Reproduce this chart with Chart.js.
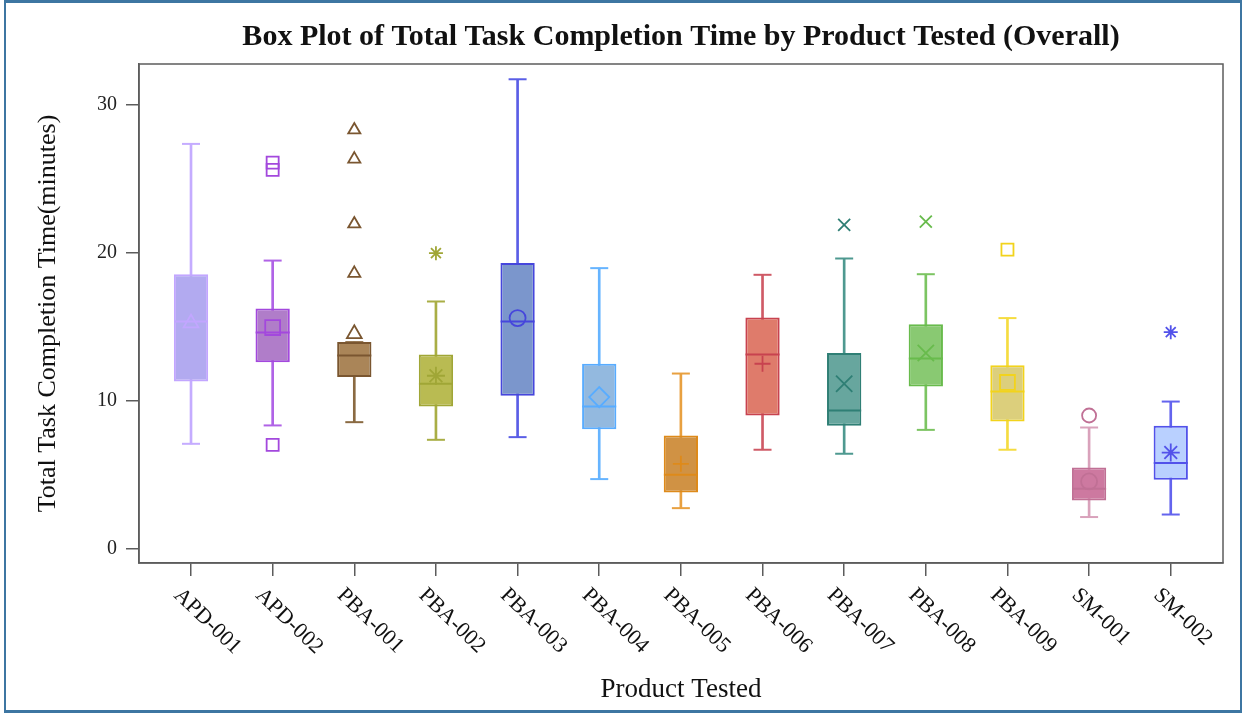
<!DOCTYPE html>
<html><head><meta charset="utf-8">
<script src="https://cdn.jsdelivr.net/npm/chart.js@4.4.1/dist/chart.umd.min.js"></script>
<style>
html,body{margin:0;padding:0;background:#fff;overflow:hidden}
#wrap{position:relative;width:1245px;height:714px}
#frame{position:absolute;left:4px;top:0;width:1238px;height:713px;box-sizing:border-box;border:2px solid #3d76a2;border-top-width:3px;border-bottom-width:3px;pointer-events:none}
canvas{display:block}
</style></head><body>
<div id="wrap"><canvas id="c" width="1245" height="714"></canvas><div id="frame"></div></div>
<script>
// ---- data ----
const categories = ['APD-001','APD-002','PBA-001','PBA-002','PBA-003','PBA-004','PBA-005','PBA-006','PBA-007','PBA-008','PBA-009','SM-001','SM-002'];
const whiskerLow  = [7.10, 8.34, 8.56, 7.37, 7.55, 4.72, 2.76, 6.70, 6.43, 8.04, 6.70, 2.16, 2.33];
const q1          = [11.30, 12.61, 11.60, 9.62, 10.34, 8.09, 3.82, 9.01, 8.31, 10.97, 8.60, 3.28, 4.67];
const median      = [15.35, 14.60, 13.06, 11.15, 15.35, 9.62, 5.01, 13.12, 9.35, 12.85, 10.63, 4.07, 5.80];
const q3          = [18.54, 16.22, 13.96, 13.12, 19.29, 12.50, 7.66, 15.62, 13.22, 15.17, 12.40, 5.50, 8.31];
const whiskerHigh = [27.33, 19.46, 13.96, 16.70, 31.69, 18.95, 11.84, 18.50, 19.60, 18.54, 15.58, 8.20, 9.95];
const mean        = [15.24, 14.94, 14.52, 11.69, 15.58, 10.25, 5.75, 12.50, 11.15, 13.22, 11.24, 4.56, 6.51];
const outliers    = [[], [26.07, 25.58, 7.03], [28.27, 26.30, 21.93, 18.60], [19.96], [], [], [], [], [21.87], [22.09], [20.20], [9.01], [14.63]];
const yTicks = [0, 10, 20, 30];

// ---- styles ----
const markers = ['triangle','rect','triangle','star','circle','rectRot','cross','cross','crossRot','crossRot','rect','circle','star'];
const fillColors = ['#b2aaf0','#b07dc9','#aa8558','#b9bb52','#7b96cc','#93b9df','#d09244','#df7b6b','#67a69e','#89c972','#dccf7c','#cd79a0','#b9d0ff'];
const lineColors = ['#c2a6ff','#a348dd','#7a5630','#a0a636','#4646dc','#58acff','#de8a1a','#c8424f','#2f7f75','#68bb4c','#f2d31c','#c07095','#5252ea'];
const whiskerColors = ['#c5acff','#b063e6','#8a6a42','#a9ae45','#5a5ee6','#66b4ff','#e8a040','#cf5a66','#4e9990','#7cc462','#f5dc40','#d9a2bb','#6464ee'];
const meanSize = {triangle:8.5, rect:10.5, star:9, circle:8, rectRot:10, cross:8, crossRot:11.5};
const outSize  = {triangle:7, rect:8.5, star:7, circle:7, rectRot:8, cross:7, crossRot:8.5};
const serif = "'Liberation Serif','Times New Roman',serif";
const axisColor = '#5c5c5c';

const idx = categories.map((_, i) => i);
const outlierPoints = outliers.flatMap((arr, i) => arr.map(v => ({x: i, y: v})));

const xLabelPlugin = {
  id: 'xLabels',
  afterDraw(chart) {
    const sx = chart.scales.x, ctx = chart.ctx;
    ctx.save();
    ctx.font = '22px ' + serif;
    ctx.fillStyle = '#111';
    ctx.textAlign = 'left';
    ctx.textBaseline = 'middle';
    categories.forEach((c, i) => {
      const px = sx.getPixelForValue(i);
      ctx.save();
      ctx.translate(px - 14, sx.top + 29);
      ctx.rotate(44 * Math.PI / 180);
      ctx.fillText(c, 0, 0);
      ctx.restore();
    });
    ctx.restore();
  }
};
const framePlugin = {
  id: 'plotFrame',
  afterDraw(chart) {
    const {ctx, chartArea: a} = chart;
    ctx.save();
    ctx.strokeStyle = axisColor;
    ctx.lineWidth = 1.5;
    ctx.strokeRect(a.left, a.top, a.right - a.left, a.bottom - a.top);
    ctx.restore();
  }
};

const byX = (arr, fallback) => c => (c.raw && c.raw.x !== undefined) ? arr[c.raw.x] : fallback;

new Chart(document.getElementById('c'), {
  type: 'bar',
  data: {
    datasets: [
      { type: 'bar', label: 'Whisker', order: 6, grouped: false,
        data: idx.map(i => ({x: i, y: [whiskerLow[i], whiskerHigh[i]]})),
        backgroundColor: whiskerColors, borderWidth: 0, barThickness: 2 },
      { type: 'scatter', label: 'Whisker caps', order: 5,
        data: idx.flatMap(i => [{x: i, y: whiskerLow[i]}, {x: i, y: whiskerHigh[i]}]),
        pointStyle: 'line', pointRadius: 9, borderWidth: 2,
        borderColor: byX(whiskerColors, '#888') },
      { type: 'bar', label: 'Box', order: 4, grouped: false,
        data: idx.map(i => ({x: i, y: [q1[i], q3[i]]})),
        backgroundColor: fillColors, borderColor: lineColors, borderWidth: 2, borderSkipped: false,
        barPercentage: 0.42, categoryPercentage: 1 },
      { type: 'scatter', label: 'Median', order: 3,
        data: idx.map(i => ({x: i, y: median[i]})),
        pointStyle: 'line', pointRadius: 17, borderWidth: 2, borderColor: lineColors },
      { type: 'scatter', label: 'Mean', order: 2,
        data: idx.map(i => ({x: i, y: mean[i]})),
        pointStyle: markers, pointRadius: markers.map(m => meanSize[m]),
        borderColor: lineColors, backgroundColor: 'rgba(0,0,0,0)', borderWidth: 1.8 },
      { type: 'scatter', label: 'Outliers', order: 1,
        data: outlierPoints,
        pointStyle: byX(markers, 'circle'),
        pointRadius: c => (c.raw && c.raw.x !== undefined) ? outSize[markers[c.raw.x]] : 6,
        borderColor: byX(lineColors, '#888'), backgroundColor: 'rgba(0,0,0,0)', borderWidth: 1.8 }
    ]
  },
  options: {
    responsive: false,
    animation: false,
    devicePixelRatio: 1,
    events: [],
    layout: { padding: { left: 0, right: 22, top: 0, bottom: 0 } },
    plugins: {
      legend: { display: false },
      tooltip: { enabled: false },
      title: {
        display: true, fullSize: false,
        text: 'Box Plot of Total Task Completion Time by Product Tested (Overall)',
        color: '#111', font: { family: serif, size: 30, weight: 'bold', lineHeight: 1.2 },
        padding: { top: 19, bottom: 9 }
      }
    },
    scales: {
      x: {
        type: 'linear', min: -0.637, max: 12.64, offset: false,
        afterFit: s => { s.height = 151; },
        ticks: { display: false, stepSize: 1, includeBounds: false },
        afterBuildTicks: s => { s.ticks = idx.map(v => ({value: v})); },
        grid: { offset: false, drawOnChartArea: false, drawTicks: true, tickLength: 13, color: axisColor, lineWidth: 1.5 },
        border: { display: true, color: axisColor, width: 1.5 },
        title: { display: true, text: 'Product Tested', color: '#111', font: { family: serif, size: 27, lineHeight: 1.2 }, padding: { top: 0, bottom: 8 } }
      },
      y: {
        type: 'linear', min: -0.94, max: 32.72,
        afterFit: s => { s.width = 139; },
        afterBuildTicks: s => { s.ticks = yTicks.map(v => ({value: v})); },
        ticks: { color: '#222', font: { family: serif, size: 20 }, padding: 9, includeBounds: false },
        grid: { drawOnChartArea: false, drawTicks: true, tickLength: 13, color: axisColor, lineWidth: 1.5 },
        border: { display: true, color: axisColor, width: 1.5 },
        title: { display: true, text: 'Total Task Completion Time(minutes)', color: '#111', font: { family: serif, size: 26, lineHeight: 1.2 }, padding: { top: 33, bottom: 0 } }
      }
    }
  },
  plugins: [xLabelPlugin, framePlugin]
});
</script>
</body></html>
